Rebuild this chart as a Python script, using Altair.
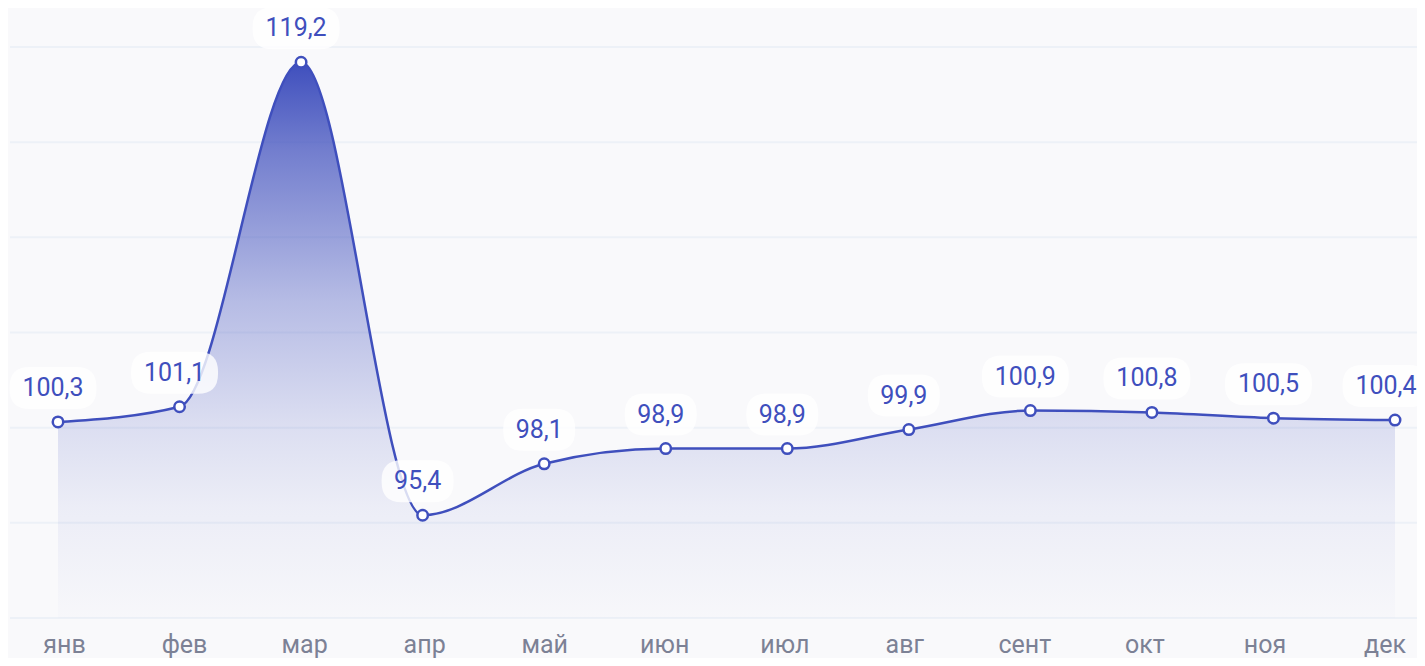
import altair as alt
import pandas as pd

months = ["янв", "фев", "мар", "апр", "май", "июн", "июл", "авг", "сент", "окт", "ноя", "дек"]
values = [100.3, 101.1, 119.2, 95.4, 98.1, 98.9, 98.9, 99.9, 100.9, 100.8, 100.5, 100.4]
labels = ["100,3", "101,1", "119,2", "95,4", "98,1", "98,9", "98,9", "99,9", "100,9", "100,8", "100,5", "100,4"]
grid_values = [90, 95, 100, 105, 110, 115, 120]

df = pd.DataFrame({"month": months, "value": values, "label": labels})
grid_df = pd.DataFrame({"value": grid_values})

LINE = "#3f4fbd"
FONT = "Roboto"
W, H = 1407, 571


def pill(w, h, r):
    hw = 1.0
    hh = h / w
    rr = r / (w / 2)
    return (
        f"M {-hw + rr} {-hh} L {hw - rr} {-hh} Q {hw} {-hh} {hw} {-hh + rr} "
        f"L {hw} {hh - rr} Q {hw} {hh} {hw - rr} {hh} "
        f"L {-hw + rr} {hh} Q {-hw} {hh} {-hw} {hh - rr} "
        f"L {-hw} {-hh + rr} Q {-hw} {-hh} {-hw + rr} {-hh} Z"
    )


x_enc = alt.X(
    "month:N",
    sort=months,
    scale=alt.Scale(type="point", domain=months, range=[48, 1385], padding=0),
    axis=None,
)
y_scale = alt.Scale(domain=[90, 120], zero=False, nice=False)
y_enc = alt.Y("value:Q", scale=y_scale, axis=None)

grid = alt.Chart(grid_df).mark_rule(color="#edf1f7", strokeWidth=2).encode(
    y=alt.Y("value:Q", scale=y_scale, axis=None),
    x=alt.value(0),
    x2=alt.value(W),
)

base = alt.Chart(df)

gradient = alt.Gradient(
    gradient="linear",
    stops=[
        alt.GradientStop(color="rgba(63,79,189,1.0)", offset=0),
        alt.GradientStop(color="rgba(63,79,189,0.72)", offset=0.16),
        alt.GradientStop(color="rgba(63,79,189,0.6)", offset=0.25),
        alt.GradientStop(color="rgba(63,79,189,0.36)", offset=0.43),
        alt.GradientStop(color="rgba(63,79,189,0.16)", offset=0.65),
        alt.GradientStop(color="rgba(63,79,189,0.07)", offset=0.8),
        alt.GradientStop(color="rgba(63,79,189,0.01)", offset=1),
    ],
    x1=1, x2=1, y1=0, y2=1,
)

area = base.mark_area(interpolate="monotone", color=gradient).encode(
    x=x_enc, y=y_enc, y2=alt.datum(90)
)
line = base.mark_line(interpolate="monotone", color=LINE, strokeWidth=2.5).encode(
    x=x_enc, y=y_enc
)
points = base.mark_point(
    shape="circle", filled=True, fill="white", stroke=LINE, strokeWidth=2.5, size=110, opacity=1
).encode(x=x_enc, y=y_enc)


def label_layers(filter_expr, dx):
    sub = base.transform_filter(filter_expr)
    b5 = sub.transform_filter("length(datum.label) == 5").mark_point(
        shape=pill(87, 42, 20), filled=True, fill="white", fillOpacity=0.8, strokeWidth=0,
        size=87 * 87, xOffset=dx, yOffset=-34,
    ).encode(x=x_enc, y=y_enc)
    b4 = sub.transform_filter("length(datum.label) == 4").mark_point(
        shape=pill(72, 42, 20), filled=True, fill="white", fillOpacity=0.8, strokeWidth=0,
        size=72 * 72, xOffset=dx, yOffset=-34,
    ).encode(x=x_enc, y=y_enc)
    t = sub.mark_text(
        font=FONT, fontSize=25, color=LINE, dx=dx, dy=-34, baseline="middle", align="center"
    ).encode(x=x_enc, y=y_enc, text="label:N")
    return [b5, b4, t]


main_layers = label_layers("datum.month != 'дек'", -5) + label_layers("datum.month == 'дек'", -9)

main = alt.layer(grid, area, line, points, *main_layers)

axis_labels = alt.Chart(pd.DataFrame({"month": months})).mark_text(
    font=FONT, fontSize=25, color="#7c8195", baseline="alphabetic", align="center"
).encode(
    x=alt.X("month:N", sort=months,
            scale=alt.Scale(type="point", domain=months, range=[54.5, 1375], padding=0),
            axis=None),
    y=alt.value(H + 35),
    text="month:N",
)

chart = (
    alt.layer(main, axis_labels)
    .resolve_scale(x="independent")
    .properties(
        width=W, height=H,
        padding={"left": 2, "top": 39, "right": 0, "bottom": 40},
        autosize=alt.AutoSizeParams(type="none"),
        background="#f9f9fb",
    )
    .configure_view(stroke=None)
)

chart.save("out.html", embed_options={"renderer": "svg", "actions": False})
